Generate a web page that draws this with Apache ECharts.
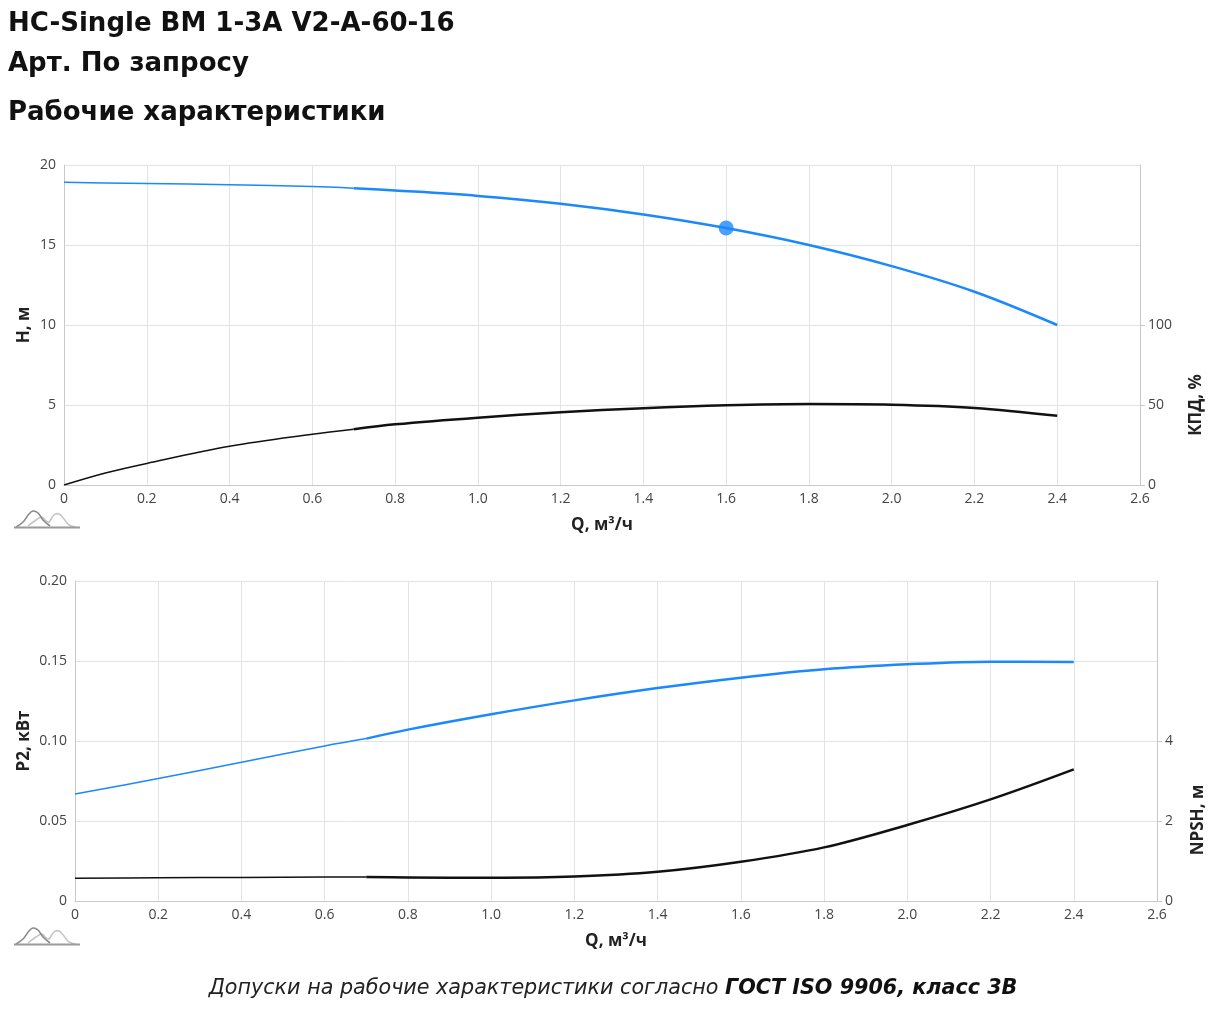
<!DOCTYPE html>
<html>
<head>
<meta charset="utf-8">
<script src="https://cdn.jsdelivr.net/npm/echarts@6/dist/echarts.min.js"></script>
<style>
html,body{margin:0;padding:0;background:#fff;}
#c{width:1225px;height:1015px;}
</style>
</head>
<body>
<div id="c"></div>
<script>
// ---- data ----
var qTopThin  = [0, 0.1, 0.2, 0.4, 0.6, 0.7];
var hThin     = [18.92, 18.88, 18.84, 18.77, 18.65, 18.55];
var kpdThin   = [0, 7.5, 13.5, 24.2, 31.7, 34.8];

var qThick    = [0.7, 0.8, 1.0, 1.2, 1.4, 1.6, 1.8, 2.0, 2.2, 2.4];
var hThick    = [18.55, 18.41, 18.07, 17.58, 16.91, 16.06, 15.0, 13.68, 12.08, 10.0];
var kpdThick  = [34.8, 37.9, 42.1, 45.4, 48.0, 49.8, 50.6, 50.2, 48.2, 43.3];

var dutyQ = 1.6, dutyH = 16.06;

var qBotThin  = [0, 0.2, 0.4, 0.6, 0.7];
var p2Thin    = [0.0669, 0.0765, 0.0867, 0.0969, 0.1015];
var npshThin  = [0.57, 0.58, 0.59, 0.60, 0.60];
var p2Thick   = [0.1015, 0.1071, 0.1167, 0.1254, 0.1331, 0.1396, 0.1448, 0.1479, 0.1496, 0.1494];
var npshThick = [0.60, 0.59, 0.58, 0.61, 0.73, 0.98, 1.34, 1.90, 2.54, 3.29];

var kpdLabels  = [0, 50, 100];
var npshLabels = [0, 2, 4];

function zip(a, b){ return a.map(function(v,i){ return [v, b[i]]; }); }

var BLUE = '#1a88ff', BLACK = '#111111';
var FONT = 'Open Sans';
var gridColor = '#e3e3e3', axisColor = '#c8c8c8';

function xAxisCfg(gi){
  return {
    type:'value', gridIndex:gi, min:0, max:2.6, interval:0.2,
    name:'Q, м³/ч', nameLocation:'middle', nameGap:32,
    nameTextStyle:{fontFamily:FONT, fontWeight:'bold', fontSize:17, color:'#222'},
    axisLine:{show:true, lineStyle:{color:axisColor}},
    axisTick:{show:false},
    axisLabel:{fontFamily:FONT, fontSize:14, color:'#444', margin:7,
      formatter:function(v){ return v===0 ? '0' : v.toFixed(1); }},
    splitLine:{show:true, lineStyle:{color:gridColor}}
  };
}

function lineS(yi, xi, data, color, w){
  return {type:'line', xAxisIndex:xi, yAxisIndex:yi, data:data, smooth:0.35,
    showSymbol:false, symbol:'none', lineStyle:{color:color, width:w}, z:3, silent:true};
}

function icon(x, y){
  return {type:'group', x:x, y:y, children:[
    {type:'polyline', shape:{points:[[14,17],[22,11],[28,8],[32,12],[35,13],[40,6],[45,5],[50,10],[55,16],[62,18]], smooth:0.4},
      style:{fill:null, stroke:'#c4c4c4', lineWidth:1.6}},
    {type:'polyline', shape:{points:[[2,18],[9,13],[15,5],[19,2],[24,4],[29,11],[36,17]], smooth:0.4},
      style:{fill:null, stroke:'#8a8a8a', lineWidth:1.6}},
    {type:'line', shape:{x1:0, y1:18.5, x2:66, y2:18.5}, style:{stroke:'#9a9a9a', lineWidth:2}}
  ]};
}

var chart = echarts.init(document.getElementById('c'), null, {renderer:'canvas'});
chart.setOption({
  backgroundColor:'#fff',
  animation:false,
  title:[
    {text:'HC-Single BM 1-3A V2-A-60-16', left:3, top:6,
      textStyle:{fontFamily:'DejaVu Sans', fontWeight:'bold', fontSize:26, color:'#111'}},
    {text:'Арт. По запросу', left:3, top:46,
      textStyle:{fontFamily:'DejaVu Sans', fontWeight:'bold', fontSize:26, color:'#111'}},
    {text:'Рабочие характеристики', left:3, top:95,
      textStyle:{fontFamily:'DejaVu Sans', fontWeight:'bold', fontSize:26, color:'#111'}}
  ],
  grid:[
    {left:64, right:85, top:165, height:320, outerBoundsMode:'none'},
    {left:75, right:68, top:581, height:320, outerBoundsMode:'none'}
  ],
  xAxis:[xAxisCfg(0), xAxisCfg(1)],
  yAxis:[
    {type:'value', gridIndex:0, min:0, max:20, interval:5, position:'left',
      name:'H, м', nameLocation:'middle', nameGap:31, nameRotate:90, nameMoveOverlap:false,
      nameTextStyle:{fontFamily:FONT, fontWeight:'bold', fontSize:17, color:'#222'},
      axisLine:{show:true, lineStyle:{color:axisColor}}, axisTick:{show:false},
      axisLabel:{fontFamily:FONT, fontSize:14, color:'#444', margin:8},
      splitLine:{show:true, lineStyle:{color:gridColor}}},
    {type:'value', gridIndex:0, min:0, max:200, interval:50, position:'right',
      axisLine:{show:true, lineStyle:{color:axisColor}},
      axisTick:{show:true, length:5, lineStyle:{color:axisColor}, customValues:kpdLabels},
      axisLabel:{fontFamily:FONT, fontSize:14, color:'#444', margin:8, customValues:kpdLabels,
        formatter:function(v){ return v>100 ? '' : String(v); }},
      splitLine:{show:false}},
    {type:'value', gridIndex:1, min:0, max:0.2, interval:0.05, position:'left',
      name:'P2, кВт', nameLocation:'middle', nameGap:42, nameRotate:90, nameMoveOverlap:false,
      nameTextStyle:{fontFamily:FONT, fontWeight:'bold', fontSize:17, color:'#222'},
      axisLine:{show:true, lineStyle:{color:axisColor}}, axisTick:{show:false},
      axisLabel:{fontFamily:FONT, fontSize:14, color:'#444', margin:8,
        formatter:function(v){ return v===0 ? '0' : v.toFixed(2); }},
      splitLine:{show:true, lineStyle:{color:gridColor}}},
    {type:'value', gridIndex:1, min:0, max:8, interval:2, position:'right',
      axisLine:{show:true, lineStyle:{color:axisColor}},
      axisTick:{show:true, length:5, lineStyle:{color:axisColor}, customValues:npshLabels},
      axisLabel:{fontFamily:FONT, fontSize:14, color:'#444', margin:8, customValues:npshLabels,
        formatter:function(v){ return v>4 ? '' : String(v); }},
      splitLine:{show:false}}
  ],
  series:[
    lineS(0,0, zip(qTopThin, hThin), BLUE, 1.5),
    lineS(0,0, zip(qThick, hThick), BLUE, 2.5),
    lineS(1,0, zip(qTopThin, kpdThin), BLACK, 1.5),
    lineS(1,0, zip(qThick, kpdThick), BLACK, 2.5),
    {type:'scatter', xAxisIndex:0, yAxisIndex:0, data:[[dutyQ, dutyH]],
      symbolSize:15, itemStyle:{color:BLUE}, z:5, silent:true},
    lineS(2,1, zip(qBotThin, p2Thin), BLUE, 1.5),
    lineS(2,1, zip(qThick, p2Thick), BLUE, 2.5),
    lineS(3,1, zip(qBotThin, npshThin), BLACK, 1.5),
    lineS(3,1, zip(qThick, npshThick), BLACK, 2.5)
  ],
  graphic:[
    {type:'text', x:1196, y:405, rotation:Math.PI/2,
      style:{text:'КПД, %', fontFamily:FONT, fontWeight:'bold', fontSize:17, fill:'#222',
        align:'center', verticalAlign:'middle'}},
    {type:'text', x:1198, y:820, rotation:Math.PI/2,
      style:{text:'NPSH, м', fontFamily:FONT, fontWeight:'bold', fontSize:17, fill:'#222',
        align:'center', verticalAlign:'middle'}},
    icon(14, 509),
    icon(14, 926),
    {type:'text', x:613, y:989,
      style:{text:'{n|Допуски на рабочие характеристики согласно }{b|ГОСТ ISO 9906, класс 3B}',
        align:'center', verticalAlign:'middle',
        rich:{
          n:{fontFamily:'DejaVu Sans', fontStyle:'italic', fontSize:20.7, fill:'#222'},
          b:{fontFamily:'DejaVu Sans', fontStyle:'italic', fontWeight:'bold', fontSize:20.7, fill:'#111'}
        }}}
  ]
});
</script>
</body>
</html>
